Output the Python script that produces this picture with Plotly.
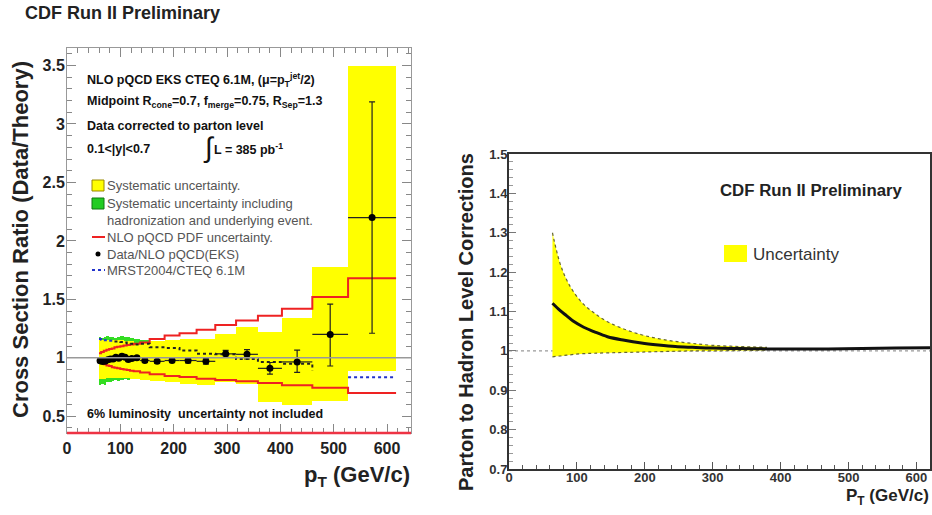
import plotly.graph_objects as go

# ---------------- Left panel: Data / Theory ratio ----------------
bin_edges = [60, 64, 69, 74, 79, 84, 89, 94, 100, 106, 112, 118, 125, 137, 155,
             183, 211, 243, 278, 317, 358, 403, 460, 527, 617]
pt_points = [62, 66.5, 71.5, 76.5, 81.5, 86.5, 91.5, 97, 103, 109, 115, 121.5,
             131, 146, 169, 197, 227, 260.5, 297.5, 337.5, 380.5, 431.5, 493.5, 572]
ratio = [0.975, 0.968, 0.97, 0.983, 0.99, 0.99, 1.005, 0.997, 1.014, 1.005, 0.985,
         0.995, 1.0, 0.977, 0.97, 0.977, 0.977, 0.97, 1.034, 1.03, 0.91, 0.965, 1.20, 2.20]
stat_hi = [0.015, 0.015, 0.015, 0.015, 0.015, 0.015, 0.015, 0.015, 0.015, 0.015, 0.015,
           0.015, 0.015, 0.015, 0.015, 0.015, 0.02, 0.025, 0.03, 0.04, 0.05, 0.10, 0.26, 0.99]
stat_lo = [0.015, 0.015, 0.015, 0.015, 0.015, 0.015, 0.015, 0.015, 0.015, 0.015, 0.015,
           0.015, 0.015, 0.015, 0.015, 0.015, 0.02, 0.025, 0.03, 0.04, 0.05, 0.09, 0.27, 0.99]

syst_lo = [0.82, 0.82, 0.82, 0.83, 0.83, 0.83, 0.83, 0.83, 0.83, 0.83, 0.83, 0.82,
           0.82, 0.81, 0.80, 0.79, 0.78, 0.77, 0.79, 0.78, 0.62, 0.60, 0.63, 0.89]
syst_hi = [1.15, 1.15, 1.15, 1.15, 1.15, 1.15, 1.15, 1.15, 1.15, 1.14, 1.14, 1.14,
           1.13, 1.13, 1.14, 1.15, 1.165, 1.165, 1.20, 1.26, 1.22, 1.34, 1.78, 3.5]
had_lo = [0.77, 0.78, 0.77, 0.79, 0.79, 0.80, 0.81, 0.80, 0.81, 0.82, 0.81, 0.82, 0.82, 0.81]
had_hi = [1.18, 1.17, 1.18, 1.19, 1.18, 1.18, 1.17, 1.18, 1.19, 1.18, 1.18, 1.17, 1.16, 1.15]

pdf_hi = [1.04, 1.05, 1.06, 1.07, 1.075, 1.08, 1.09, 1.095, 1.10, 1.105, 1.11, 1.115,
          1.12, 1.13, 1.16, 1.19, 1.21, 1.24, 1.28, 1.32, 1.36, 1.42, 1.52, 1.68]
pdf_lo = [0.965, 0.955, 0.945, 0.935, 0.93, 0.92, 0.915, 0.91, 0.905, 0.90, 0.895, 0.89,
          0.885, 0.875, 0.86, 0.845, 0.835, 0.82, 0.81, 0.80, 0.785, 0.765, 0.745, 0.70]
mrst = [1.16, 1.155, 1.15, 1.15, 1.145, 1.145, 1.14, 1.14, 1.135, 1.13, 1.125, 1.12,
        1.115, 1.12, 1.09, 1.085, 1.063, 1.035, 1.03, 0.99, 0.965, 0.95, 0.89, 0.834]

# ---------------- Right panel: parton-to-hadron corrections ----------------
pt_corr = [64, 75, 85, 95, 110, 125, 145, 170, 195, 220, 245, 270, 300, 340, 380,
           420, 470, 520, 570, 620]
corr = [1.121, 1.103, 1.089, 1.075, 1.060, 1.049, 1.036, 1.027, 1.020, 1.015, 1.011,
        1.009, 1.007, 1.006, 1.005, 1.005, 1.005, 1.006, 1.007, 1.008]
pt_band = [64, 75, 85, 95, 110, 125, 145, 170, 195, 220, 245, 270, 300, 340, 380]
corr_hi = [1.30, 1.223, 1.18, 1.15, 1.118, 1.097, 1.074, 1.055, 1.041, 1.031, 1.024,
           1.019, 1.014, 1.011, 1.009]
corr_lo = [0.985, 0.987, 0.989, 0.991, 0.993, 0.994, 0.995, 0.996, 0.997, 0.998, 0.999,
           1.0, 1.0, 1.001, 1.002]

REF = 1.0
W, H = 932, 515
FONT = "Liberation Sans"
YELLOW = "#ffff00"
GREEN = "#33dd22"
RED = "#ee2222"
BLUE = "#2233cc"

centers = [(a + b) / 2 for a, b in zip(bin_edges[:-1], bin_edges[1:])]
widths = [b - a for a, b in zip(bin_edges[:-1], bin_edges[1:])]
halfw = [w / 2 for w in widths]

def step(vals, edges):
    return list(edges), list(vals) + [vals[-1]]

fig = go.Figure()

# green band (hadronization + UE)
n_had = len(had_lo)
fig.add_trace(go.Bar(x=centers[:n_had], width=widths[:n_had], base=had_lo,
                     y=[h - l for h, l in zip(had_hi, had_lo)],
                     marker=dict(color=GREEN, line=dict(width=0)),
                     showlegend=False, xaxis="x", yaxis="y", hoverinfo="skip"))
# yellow band
fig.add_trace(go.Bar(x=centers, width=widths, base=syst_lo,
                     y=[h - l for h, l in zip(syst_hi, syst_lo)],
                     marker=dict(color=YELLOW, line=dict(width=0)),
                     showlegend=False, xaxis="x", yaxis="y", hoverinfo="skip"))
# PDF uncertainty
for arr in (pdf_hi, pdf_lo):
    sx, sy = step(arr, bin_edges)
    fig.add_trace(go.Scatter(x=sx, y=sy, mode="lines", line=dict(color=RED, width=2, shape="hv"),
                             showlegend=False, xaxis="x", yaxis="y", hoverinfo="skip"))
# MRST / CTEQ ratio
sx, sy = step(mrst, bin_edges)
n_blue_lo = 6
fig.add_trace(go.Scatter(x=sx[n_blue_lo:-2], y=sy[n_blue_lo:-2], mode="lines",
                         line=dict(color="#222222", width=2, dash="dot", shape="hv"),
                         showlegend=False, xaxis="x", yaxis="y", hoverinfo="skip"))
fig.add_trace(go.Scatter(x=sx[:n_blue_lo + 1], y=sy[:n_blue_lo + 1], mode="lines",
                         line=dict(color=BLUE, width=2, dash="dot", shape="hv"),
                         showlegend=False, xaxis="x", yaxis="y", hoverinfo="skip"))
fig.add_trace(go.Scatter(x=sx[-2:], y=sy[-2:], mode="lines",
                         line=dict(color=BLUE, width=2, dash="dot", shape="hv"),
                         showlegend=False, xaxis="x", yaxis="y", hoverinfo="skip"))
# data points
fig.add_trace(go.Scatter(x=pt_points, y=ratio, mode="markers",
                         marker=dict(color="black", size=7),
                         error_x=dict(type="data", array=halfw, color="#222222", thickness=1.2, width=0),
                         error_y=dict(type="data", symmetric=False, array=stat_hi, arrayminus=stat_lo,
                                      color="#222222", thickness=1.2, width=3),
                         showlegend=False, xaxis="x", yaxis="y", hoverinfo="skip"))

# ---------------- right panel traces ----------------
fig.add_trace(go.Scatter(x=pt_band, y=corr_lo, mode="lines",
                         line=dict(color="#666633", width=1.2, dash="dot", shape="spline"),
                         showlegend=False, xaxis="x2", yaxis="y2", hoverinfo="skip"))
fig.add_trace(go.Scatter(x=pt_band, y=corr_hi, mode="lines", fill="tonexty", fillcolor=YELLOW,
                         line=dict(color="#666633", width=1.2, dash="dot", shape="spline"),
                         showlegend=False, xaxis="x2", yaxis="y2", hoverinfo="skip"))
fig.add_trace(go.Scatter(x=pt_corr, y=corr, mode="lines",
                         line=dict(color="#111111", width=3, shape="spline"),
                         showlegend=False, xaxis="x2", yaxis="y2", hoverinfo="skip"))

tickfont_l = dict(family=FONT, size=16, color="#222222", weight="bold")
tickfont_r = dict(family=FONT, size=13, color="#333333", weight="bold")

fig.update_layout(
    width=W, height=H, margin=dict(l=0, r=0, t=0, b=0, autoexpand=False),
    paper_bgcolor="white", plot_bgcolor="white", barmode="overlay", bargap=0,
    font=dict(family=FONT), showlegend=False,
    xaxis=dict(domain=[67 / W, 411 / W], anchor="y", range=[0, 645], dtick=100, tick0=0,
               ticks="inside", ticklen=9, tickcolor="#888888", tickwidth=1,
               minor=dict(dtick=20, ticks="inside", ticklen=5, tickcolor="#888888"),
               showline=True, linecolor="#999999", linewidth=1, mirror="allticks",
               showgrid=False, zeroline=False, tickfont=tickfont_l, ticklabelstandoff=1,
               automargin=False),
    yaxis=dict(domain=[(H - 433) / H, (H - 48) / H], anchor="x", range=[0.357, 3.65],
               tickvals=[0.5, 1, 1.5, 2, 2.5, 3, 3.5], ticktext=["0.5", "1", "1.5", "2", "2.5", "3", "3.5"],
               ticks="inside", ticklen=9, tickcolor="#888888", tickwidth=1,
               minor=dict(dtick=0.1, tick0=0, ticks="inside", ticklen=5, tickcolor="#888888"),
               showline=True, linecolor="#999999", linewidth=1, mirror="allticks",
               showgrid=False, zeroline=False, tickfont=tickfont_l, ticklabelstandoff=-2,
               automargin=False),
    xaxis2=dict(domain=[509 / W, 930 / W], anchor="y2", range=[0, 620], dtick=100, tick0=0,
                ticks="inside", ticklen=7, tickcolor="#555555",
                minor=dict(dtick=20, ticks="inside", ticklen=4, tickcolor="#555555"),
                showline=True, linecolor="#333333", linewidth=2, mirror=True,
                showgrid=False, zeroline=False, tickfont=tickfont_r, ticklabelstandoff=-5,
                automargin=False),
    yaxis2=dict(domain=[(H - 469) / H, (H - 154) / H], anchor="x2", range=[0.7, 1.5],
                tickvals=[0.7, 0.8, 0.9, 1.0, 1.1, 1.2, 1.3, 1.4, 1.5],
                ticktext=["0.7", "0.8", "0.9", "1", "1.1", "1.2", "1.3", "1.4", "1.5"],
                ticks="inside", ticklen=7, tickcolor="#777777",
                minor=dict(dtick=0.02, tick0=0.7, ticks="inside", ticklen=4, tickcolor="#999999"),
                showline=True, linecolor="#333333", linewidth=2, mirror=True,
                showgrid=False, zeroline=False, tickfont=tickfont_r, ticklabelstandoff=-3,
                automargin=False),
)

def px(x):
    return x / W

def py(y):
    return 1 - y / H

shapes = [
    dict(type="line", xref="x domain", yref="y", x0=0, x1=1, y0=REF, y1=REF,
         line=dict(color="#999999", width=1.5)),
    dict(type="line", xref="x domain", yref="y domain", x0=0, x1=1, y0=0, y1=0,
         line=dict(color="#ee3344", width=2.5)),
    dict(type="line", xref="x2 domain", yref="y2", x0=0, x1=1, y0=REF, y1=REF,
         line=dict(color="#999999", width=1.2, dash="dot"), layer="below"),
    # left legend glyphs
    dict(type="rect", xref="paper", yref="paper", x0=px(92), x1=px(104), y0=py(191), y1=py(180),
         fillcolor=YELLOW, line=dict(color="#998800", width=1)),
    dict(type="rect", xref="paper", yref="paper", x0=px(92), x1=px(104), y0=py(209), y1=py(198),
         fillcolor="#22cc22", line=dict(color="#117711", width=1)),
    dict(type="line", xref="paper", yref="paper", x0=px(92), x1=px(105), y0=py(237), y1=py(237),
         line=dict(color=RED, width=2)),
    dict(type="circle", xref="paper", yref="paper", x0=px(95.5), x1=px(100.5), y0=py(256.5), y1=py(251.5),
         fillcolor="black", line=dict(color="black", width=0)),
    dict(type="line", xref="paper", yref="paper", x0=px(92), x1=px(105), y0=py(270), y1=py(270),
         line=dict(color=BLUE, width=2, dash="dot")),
    # right legend glyph
    dict(type="rect", xref="paper", yref="paper", x0=px(724), x1=px(747), y0=py(262), y1=py(245),
         fillcolor=YELLOW, line=dict(width=0)),
]
fig.update_layout(shapes=shapes)

def ann(text, x, y, size, bold=False, color="#111111", xanchor="left", angle=0, yanchor="middle"):
    fig.add_annotation(text=text, x=px(x), y=py(y), xref="paper", yref="paper",
                       showarrow=False, xanchor=xanchor, yanchor=yanchor, textangle=angle,
                       borderpad=0,
                       font=dict(family=FONT, size=size, color=color, weight="bold" if bold else "normal"))

ann("CDF Run II Preliminary", 24, 13, 18, bold=True, color="#222222")
ann("Cross Section Ratio (Data/Theory)", 20, 240, 22, bold=True, color="#222222", xanchor="center", angle=-90)
ann("p<sub>T</sub> (GeV/c)", 411, 476, 22, bold=True, color="#222222", xanchor="right")

ann("NLO pQCD EKS CTEQ 6.1M, (μ=p<sub>T</sub><sup>jet</sup>/2)", 86, 80, 12.5, bold=True)
ann("Midpoint R<sub>cone</sub>=0.7, f<sub>merge</sub>=0.75, R<sub>Sep</sub>=1.3", 86, 102, 12.5, bold=True)
ann("Data corrected to parton level", 86, 126, 12.5, bold=True)
ann("0.1&lt;|y|&lt;0.7", 86, 149, 12.5, bold=True)
ann("∫", 202, 148, 28, bold=False)
ann("L = 385 pb<sup>-1</sup>", 213, 149, 12.5, bold=True)
ann("6% luminosity  uncertainty not included", 86, 414, 12.5, bold=True)

LEG = "#555555"
ann("Systematic uncertainty.", 106, 185, 13, color=LEG)
ann("Systematic uncertainty including", 106, 203, 13, color=LEG)
ann("hadronization and underlying event.", 106, 220, 13, color=LEG)
ann("NLO pQCD PDF uncertainty.", 106, 237, 13, color=LEG)
ann("Data/NLO pQCD(EKS)", 106, 254, 13, color=LEG)
ann("MRST2004/CTEQ 6.1M", 106, 270, 13, color=LEG)

ann("Parton to Hadron Level Corrections", 466, 322, 20, bold=True, color="#222222", xanchor="center", angle=-90)
ann("P<sub>T</sub> (GeV/c)", 930, 497, 17, bold=True, color="#222222", xanchor="right")
ann("CDF Run II Preliminary", 719, 191, 16.8, bold=True, color="#222222")
ann("Uncertainty", 752, 254, 17, color="#333333")

fig.write_html("out.html", config={"displayModeBar": False},
               post_script="document.body.style.margin='0px';")
